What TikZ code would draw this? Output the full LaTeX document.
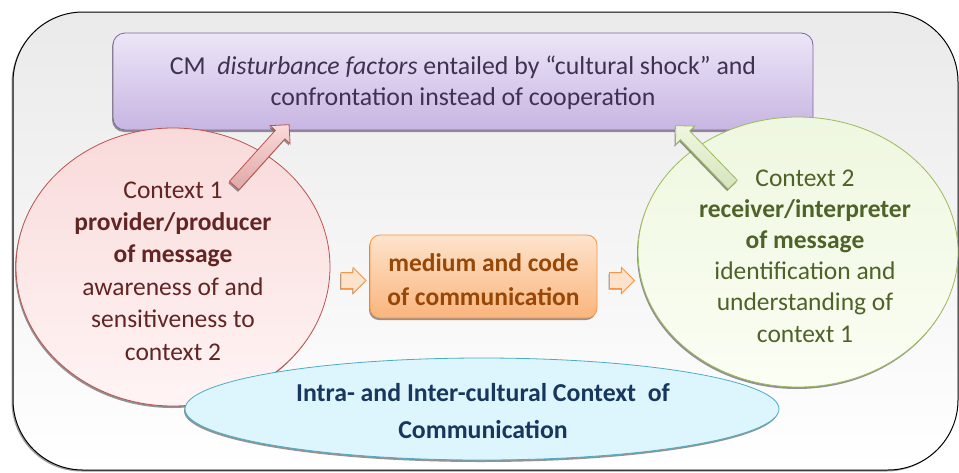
\documentclass[tikz,border=0pt]{standalone}
\usepackage{fontspec}
\setmainfont{Carlito}
\usetikzlibrary{shapes.geometric,shapes.arrows,shadows}

\definecolor{frameTop}{HTML}{EAEAEA}
\definecolor{purpleTop}{HTML}{ECE6F7}
\definecolor{purpleBot}{HTML}{C7B5E2}
\definecolor{purpleLine}{HTML}{8064A2}
\definecolor{purpleText}{HTML}{3F3151}
\definecolor{redTop}{HTML}{F9DADA}
\definecolor{redBot}{HTML}{FFF4F4}
\definecolor{redLine}{HTML}{C0504D}
\definecolor{redText}{HTML}{632523}
\definecolor{greenTop}{HTML}{EEF7DF}
\definecolor{greenBot}{HTML}{FBFEF4}
\definecolor{greenLine}{HTML}{9BBB59}
\definecolor{greenText}{HTML}{4F6228}
\definecolor{orangeTop}{HTML}{FDE3CC}
\definecolor{orangeBot}{HTML}{FAB57C}
\definecolor{orangeLine}{HTML}{F79646}
\definecolor{orangeText}{HTML}{974706}
\definecolor{blueFill}{HTML}{DDF5FD}
\definecolor{blueLine}{HTML}{4BACC6}
\definecolor{blueText}{HTML}{17375E}

\begin{document}
\begin{tikzpicture}[x=1pt,y=-1pt,
  softshadow/.style={drop shadow={shadow xshift=-1pt,shadow yshift=-2pt,fill=black!60,opacity=0.7}},
  framebox/.style={rectangle,rounded corners=70pt,draw=black,line width=1pt,
    top color=frameTop,bottom color=white,minimum width=945pt,minimum height=458pt,
    drop shadow={shadow xshift=-1.5pt,shadow yshift=-1.5pt,fill=black!55,opacity=0.7}},
  topbox/.style={rectangle,rounded corners=12pt,draw=purpleLine,line width=0.8pt,
    top color=purpleTop,bottom color=purpleBot,minimum width=700pt,minimum height=97pt,softshadow},
  ctxone/.style={ellipse,draw=redLine,line width=0.8pt,top color=redTop,bottom color=redBot,
    minimum width=314pt,minimum height=278pt,inner sep=0pt,softshadow},
  ctxtwo/.style={ellipse,draw=greenLine,line width=0.8pt,top color=greenTop,bottom color=greenBot,
    minimum width=320pt,minimum height=270pt,inner sep=0pt,softshadow},
  mediumbox/.style={rectangle,rounded corners=10pt,draw=orangeLine,line width=0.8pt,
    top color=orangeTop,bottom color=orangeBot,minimum width=227pt,minimum height=83pt,softshadow},
  envellipse/.style={ellipse,draw=blueLine,line width=0.8pt,fill=blueFill,
    minimum width=594pt,minimum height=102pt,inner sep=0pt,softshadow},
  bigarrow/.style={single arrow,inner xsep=0pt,inner ysep=6pt,single arrow head extend=7pt,
    single arrow head indent=0pt,minimum height=82pt,line width=0.8pt,softshadow},
  smallarrow/.style={single arrow,inner xsep=0pt,inner ysep=7.5pt,single arrow head extend=5pt,
    single arrow head indent=0pt,minimum height=25pt,line width=0.8pt,draw=orangeLine,
    fill=orangeTop,drop shadow={shadow xshift=-0.8pt,shadow yshift=-1.2pt,fill=black!60,opacity=0.7}},
  bodytext/.style={align=center,inner sep=0pt}]

\useasboundingbox (0,0) rectangle (959,472);

% surrounding frame
\node[framebox] (frame) at (485.5,241) {};

% disturbance factors
\node[topbox] (dist) at (463,81.5) {};
\node[bodytext,text=purpleText,font=\fontsize{25.8}{31}\selectfont] (disttext) at (463,83)
  {CM\ \ \textit{disturbance factors} entailed by “cultural shock” and\\confrontation instead of cooperation};

% the two contexts
\node[ctxone] (c1) at (173,267) {};
\node[ctxtwo] (c2) at (798,252) {};

% medium and code
\node[mediumbox] (med) at (483.5,276.5) {};
\node[bodytext,text=orangeText,font=\fontsize{25.5}{34}\selectfont\bfseries] (medtext) at (483.5,280)
  {medium and code\\of communication};

% flow arrows
\node[smallarrow] (a1) at (349.5,280.5) {};
\node[smallarrow] (a2) at (618,280.5) {};

% arrows towards the disturbance factors
\node[bigarrow,rotate=48,draw=redLine,top color=redTop,bottom color=redLine!50] (up1) at (259.5,157.5) {};
\node[bigarrow,rotate=134,draw=greenLine,top color=greenTop,bottom color=greenLine!40] (up2) at (706.5,157.5) {};

% context texts
\node[bodytext,text=redText,font=\fontsize{25.5}{32.4}\selectfont] (c1text) at (173,271)
  {Context 1\\\textbf{provider/producer}\\\textbf{of message}\\awareness of and\\sensitiveness to\\context 2};
\node[bodytext,text=greenText,font=\fontsize{25.5}{31.2}\selectfont] (c2text) at (805,256)
  {Context 2\\\textbf{receiver/interpreter}\\\textbf{of message}\\identification and\\understanding of\\context 1};

% intra- and inter-cultural context
\node[envellipse] (env) at (482,409) {};
\node[bodytext,text=blueText,font=\fontsize{25.8}{37}\selectfont\bfseries] (envtext) at (483,411)
  {Intra- and Inter-cultural Context\ \ of\\Communication};

\end{tikzpicture}
\end{document}
